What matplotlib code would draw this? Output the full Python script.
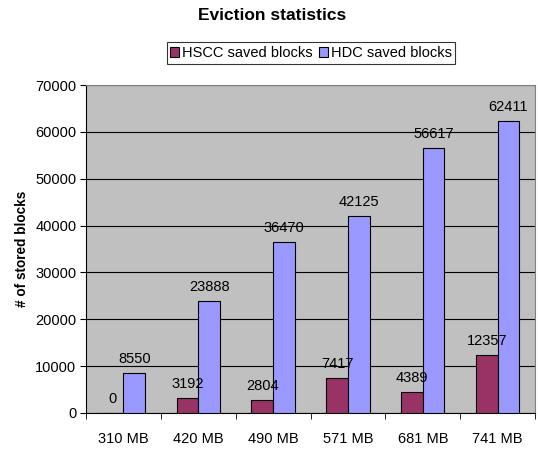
import numpy as np
import matplotlib.pyplot as plt

# cache sizes and saved block counts per scheme
sizes = ['310 MB', '420 MB', '490 MB', '571 MB', '681 MB', '741 MB']
hscc_saved = [0, 3192, 2804, 7417, 4389, 12357]
hdc_saved = [8550, 23888, 36470, 42125, 56617, 62411]

plt.rcParams['font.family'] = ['Liberation Sans', 'DejaVu Sans']
fs = 10.5

fig = plt.figure(figsize=(5.38, 4.49), dpi=100)
ax = fig.add_axes([86 / 538, 36 / 449, 449 / 538, 328 / 449])
ax.set_facecolor('#C0C0C0')

x = np.arange(len(sizes))
w = 0.29
b1 = ax.bar(x - w / 2, hscc_saved, w, color='#993366', edgecolor='black', linewidth=0.8, zorder=3)
b2 = ax.bar(x + w / 2, hdc_saved, w, color='#9999FF', edgecolor='black', linewidth=0.8, zorder=3)

for bars in (b1, b2):
    ax.bar_label(bars, labels=[str(int(v)) for v in bars.datavalues], padding=5, fontsize=fs)

ax.set_xlim(-0.5, len(sizes) - 0.5)
ax.set_ylim(0, 70000)
ax.set_yticks(range(0, 70001, 10000))
ax.yaxis.grid(True, color='black', linewidth=0.8, zorder=0)
ax.set_xticks(x)
ax.set_xticklabels(sizes, fontsize=fs)
ax.set_xticks(np.arange(len(sizes) + 1) - 0.5, minor=True)
ax.tick_params(axis='x', which='major', length=0, pad=14)
ax.tick_params(axis='x', which='minor', length=4, direction='out', color='black')
ax.tick_params(axis='y', labelsize=fs, length=4, direction='out', pad=3)

for side in ('top', 'right'):
    ax.spines[side].set_color('#808080')
for side in ('left', 'bottom'):
    ax.spines[side].set_color('black')

ax.set_ylabel('# of stored blocks', fontsize=9.8, fontweight='bold')
ax.yaxis.set_label_coords(-57 / 449, 0.5)

fig.text(272 / 538, 1 - 15 / 449, 'Eviction statistics', ha='center', va='center',
         fontsize=12.5, fontweight='bold')

leg = fig.legend([b1, b2], ['HSCC saved blocks', 'HDC saved blocks'], loc='center',
                 bbox_to_anchor=(311 / 538, 1 - 53 / 449), ncol=2, fontsize=fs,
                 frameon=True, fancybox=False, edgecolor='black', handlelength=0.62,
                 handleheight=0.62, handletextpad=0.2, columnspacing=0.4,
                 borderpad=0.25, borderaxespad=0)
leg.get_frame().set_linewidth(0.8)

fig.savefig('out.png', dpi=100)
